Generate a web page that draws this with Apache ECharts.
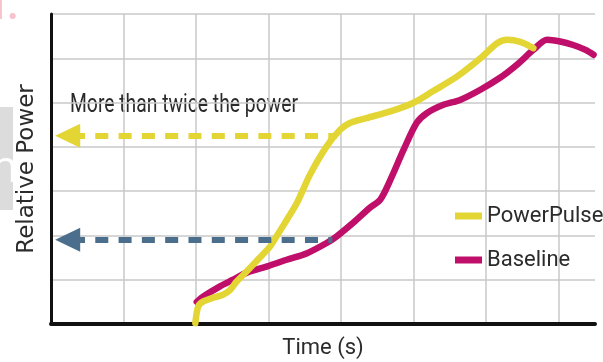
<!DOCTYPE html>
<html>
<head>
<meta charset="utf-8">
<script src="https://cdn.jsdelivr.net/npm/echarts@6/dist/echarts.min.js"></script>
<style>
html,body{margin:0;padding:0;background:#fff;}
#chart{width:603px;height:362px;}
</style>
</head>
<body>
<div id="chart"></div>
<script>
// ---- data (x = time units, y = relative power units) ----
var seriesNames = ['PowerPulse', 'Baseline'];
var powerPulse = [
  [1.99,0.02],[2.03,0.40],[2.10,0.51],[2.23,0.59],[2.37,0.66],[2.47,0.77],[2.56,0.96],
  [2.70,1.19],[2.88,1.50],[3.02,1.75],[3.11,1.98],[3.25,2.35],[3.39,2.73],[3.57,3.37],
  [3.80,4.01],[3.99,4.39],[4.12,4.54],[4.35,4.65],[4.68,4.80],[4.99,4.99],[5.27,5.26],
  [5.60,5.59],[5.92,6.00],[6.15,6.34],[6.29,6.42],[6.47,6.37],[6.65,6.23]
];
var baseline = [
  [2.01,0.50],[2.10,0.62],[2.33,0.85],[2.51,1.00],[2.70,1.16],[2.98,1.30],[3.25,1.45],
  [3.53,1.60],[3.80,1.83],[3.94,1.98],[4.17,2.29],[4.40,2.63],[4.54,2.81],[4.68,3.26],
  [4.86,3.93],[5.04,4.54],[5.18,4.76],[5.41,4.95],[5.64,5.06],[5.92,5.29],[6.19,5.56],
  [6.42,5.85],[6.65,6.19],[6.84,6.42],[7.02,6.38],[7.20,6.30],[7.37,6.19],[7.48,6.08]
];
// arrows: [fromX, toX, level]
var arrowPowerPulse = [0.23, 3.94, 4.25];
var arrowBaseline = [0.23, 3.88, 1.90];
var annotationText = 'More than twice the power';
var xAxisName = 'Time (s)';
var yAxisName = 'Relative Power';

var YELLOW = '#e2d534';
var MAGENTA = '#bf0f6a';
var BLUE = '#4a6e8b';
var TEXT = '#2b2b2b';
var NARROW = 'Roboto, "Liberation Sans", sans-serif';

// fit annotation width to the reference's condensed type
var ctx = document.createElement('canvas').getContext('2d');
function textWidth(t, size) { ctx.font = size + 'px ' + NARROW; return ctx.measureText(t).width; }
var annoSize = 26;
var annoScale = 228 / textWidth(annotationText, annoSize);

function arrowLine(a, color) {
  return {
    silent: true,
    symbol: ['triangle', 'none'],
    symbolSize: [24, 25],
    label: {show: false},
    emphasis: {disabled: true},
    lineStyle: {color: color, width: 6, type: [13, 10.3], dashOffset: 19, cap: 'butt'},
    itemStyle: {color: color},
    data: [[{coord: [a[0], a[2]]}, {coord: [a[1], a[2]]}]]
  };
}

var chart = echarts.init(document.getElementById('chart'), null, {renderer: 'canvas'});
chart.setOption({
  animation: false,
  backgroundColor: '#fff',
  grid: {left: 51, right: 8, top: 14, bottom: 38, containLabel: false, outerBoundsMode: 'none'},
  xAxis: {
    type: 'value', min: 0, max: 7.5, interval: 1,
    name: xAxisName, nameLocation: 'middle', nameGap: 13,
    nameTextStyle: {fontFamily: NARROW, fontSize: 22, color: TEXT},
    axisLine: {show: true, lineStyle: {color: '#111', width: 4}},
    axisTick: {show: false}, axisLabel: {show: false},
    splitLine: {show: true, showMaxLine: false, lineStyle: {color: '#c9c9c9', width: 1.5}}
  },
  yAxis: {
    type: 'value', min: 0, max: 7, interval: 1,
    name: yAxisName, nameLocation: 'middle', nameGap: 12, nameRotate: 90,
    nameTextStyle: {fontFamily: '"DejaVu Sans", sans-serif', fontSize: 23, color: TEXT},
    axisLine: {show: true, onZero: false, lineStyle: {color: '#111', width: 3}},
    axisTick: {show: false}, axisLabel: {show: false},
    splitLine: {show: true, lineStyle: {color: '#c9c9c9', width: 1.5}}
  },
  legend: {
    data: ['PowerPulse', 'Baseline'],
    orient: 'vertical', left: 455, top: 205, padding: 0,
    itemWidth: 27, itemHeight: 7, itemGap: 22, icon: 'rect',
    textStyle: {fontFamily: NARROW, fontSize: 22, color: TEXT, padding: [0,0,0,0]},
    selectedMode: false
  },
  graphic: [
    {type: 'rect', shape: {x: 0, y: 107, width: 13, height: 103}, style: {fill: '#dcdcdc'}, silent: true},
    {type: 'text', x: -9, y: 147, style: {text: 'n', font: '44px "Open Sans", sans-serif', fill: '#fff'}, silent: true},
    {type: 'text', x: -13, y: -9, style: {text: '1.', font: 'bold 36px "Open Sans", sans-serif', fill: '#f6c2cc'}, silent: true},
    {type: 'text', x: 70, y: 92, scaleX: annoScale, scaleY: 1, originX: 0, originY: 0,
     style: {text: annotationText, font: annoSize + 'px ' + NARROW, fill: TEXT}, silent: true}
  ],
  series: [
    {
      name: seriesNames[1], type: 'line', data: baseline, smooth: 0.3,
      showSymbol: false, color: MAGENTA,
      lineStyle: {width: 6.5, color: MAGENTA, cap: 'round', join: 'round'},
      emphasis: {disabled: true}, z: 2,
      markLine: arrowLine(arrowBaseline, BLUE)
    },
    {
      name: seriesNames[0], type: 'line', data: powerPulse, smooth: 0.3,
      showSymbol: false, color: YELLOW,
      lineStyle: {width: 6.5, color: YELLOW, cap: 'round', join: 'round'},
      emphasis: {disabled: true}, z: 3,
      markLine: arrowLine(arrowPowerPulse, YELLOW)
    }
  ]
});
</script>
</body>
</html>
